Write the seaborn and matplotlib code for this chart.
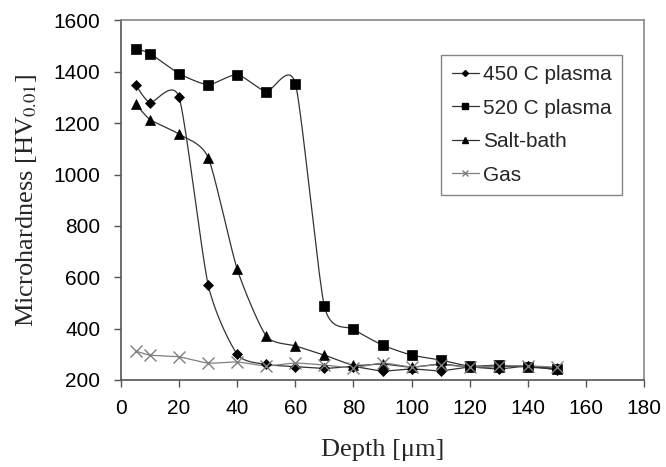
import numpy as np
import pandas as pd
import seaborn as sns
import matplotlib
matplotlib.use("Agg")
import matplotlib.pyplot as plt
from matplotlib.lines import Line2D

# depth values (um) and hardness for each treatment
depth = [5, 10, 20, 30, 40, 50, 60, 70, 80, 90, 100, 110, 120, 130, 140, 150]
plasma_450 = [1350, 1280, 1300, 570, 300, 261, 252, 245, 252, 235, 243, 236, 250, 243, 254, 239]
plasma_520 = [1490, 1471, 1393, 1350, 1389, 1323, 1354, 487, 398, 336, 297, 278, 254, 258, 250, 243]
salt_bath = [1276, 1214, 1157, 1066, 631, 371, 333, 297, 258, 262, 250, 262, 250, 252, 254, 245]
gas = [313, 297, 290, 266, 270, 255, 266, 258, 248, 266, 251, 260, 250, 255, 255, 250]

series_names = ["450 C plasma", "520 C plasma", "Salt-bath", "Gas"]
series_vals = [plasma_450, plasma_520, salt_bath, gas]
markers = ["D", "s", "^", "x"]
msizes = [5, 7.5, 7, 8]
colors = ["black", "black", "black", "#7f7f7f"]
line_colors = ["#333333", "#333333", "#333333", "#7f7f7f"]


def smooth(x, y, n=20, k=0.11):
    # smoothed line through the data points (bezier, Excel-like)
    x = np.asarray(x, float)
    y = np.asarray(y, float)
    px = np.concatenate([[x[0]], x, [x[-1]]])
    py = np.concatenate([[y[0]], y, [y[-1]]])
    xs, ys = [], []
    t = np.linspace(0, 1, n)
    for i in range(1, len(px) - 2):
        p0, p1, p2, p3 = np.array([px[i-1:i+3], py[i-1:i+3]]).T
        c1 = p1 + (p2 - p0) * k
        c2 = p2 - (p3 - p1) * k
        pts = ((1-t)**3)[:, None]*p1 + (3*(1-t)**2*t)[:, None]*c1 \
            + (3*(1-t)*t**2)[:, None]*c2 + (t**3)[:, None]*p2
        xs.extend(pts[:, 0])
        ys.extend(pts[:, 1])
    return np.array(xs), np.array(ys)


sns.set_style("white")
plt.rcParams['font.family'] = ['Liberation Sans', 'DejaVu Sans']
plt.rcParams['mathtext.fontset'] = 'stix'

fig = plt.figure(figsize=(6.66, 4.67), dpi=100)
ax = fig.add_axes([0.1817, 0.1863, 0.7853, 0.77])

handles = []
for name, vals, m, ms, c, lc in zip(series_names, series_vals, markers, msizes, colors, line_colors):
    sx, sy = smooth(depth, vals)
    sns.lineplot(x=sx, y=sy, sort=False, estimator=None, color=lc, linewidth=0.9, ax=ax)
    ax.plot(depth, vals, linestyle="none", marker=m, markersize=ms,
            color=c, markeredgewidth=1 if m == "x" else 0.5, zorder=3)
    handles.append(Line2D([0], [0], color=lc, linewidth=0.9, marker=m,
                          markersize=ms * 0.6, markerfacecolor=c, markeredgecolor=c))

ax.set_xlim(0, 180)
ax.set_ylim(200, 1600)
ax.set_xticks(range(0, 181, 20))
ax.set_yticks(range(200, 1601, 200))
ax.tick_params(axis="both", direction="out", length=5, width=1, colors="#555555",
               labelsize=15, labelcolor="black", bottom=True, left=True)
ax.tick_params(axis="y", pad=10)
ax.tick_params(axis="x", pad=9)
for side in ["left", "bottom"]:
    ax.spines[side].set_color("#555555")
    ax.spines[side].set_linewidth(1.2)
for side in ["top", "right"]:
    ax.spines[side].set_color("#888888")
    ax.spines[side].set_linewidth(1.2)

ax.set_xlabel("Depth [μm]", family=["Liberation Serif", "DejaVu Serif"], fontsize=19, labelpad=15)
ax.set_ylabel("Microhardness [HV$_{0.01}$]", family=["Liberation Serif", "DejaVu Serif"],
              fontsize=19, labelpad=10)

leg = ax.legend(handles, series_names, loc="upper left", bbox_to_anchor=(0.612, 0.905),
                fontsize=15, frameon=True, fancybox=False, handlelength=1.3,
                handletextpad=0.2, borderpad=0.5, labelspacing=0.7, borderaxespad=0)
leg.get_frame().set_edgecolor("#666666")
leg.get_frame().set_linewidth(1.0)

fig.savefig("out.png", dpi=100)
